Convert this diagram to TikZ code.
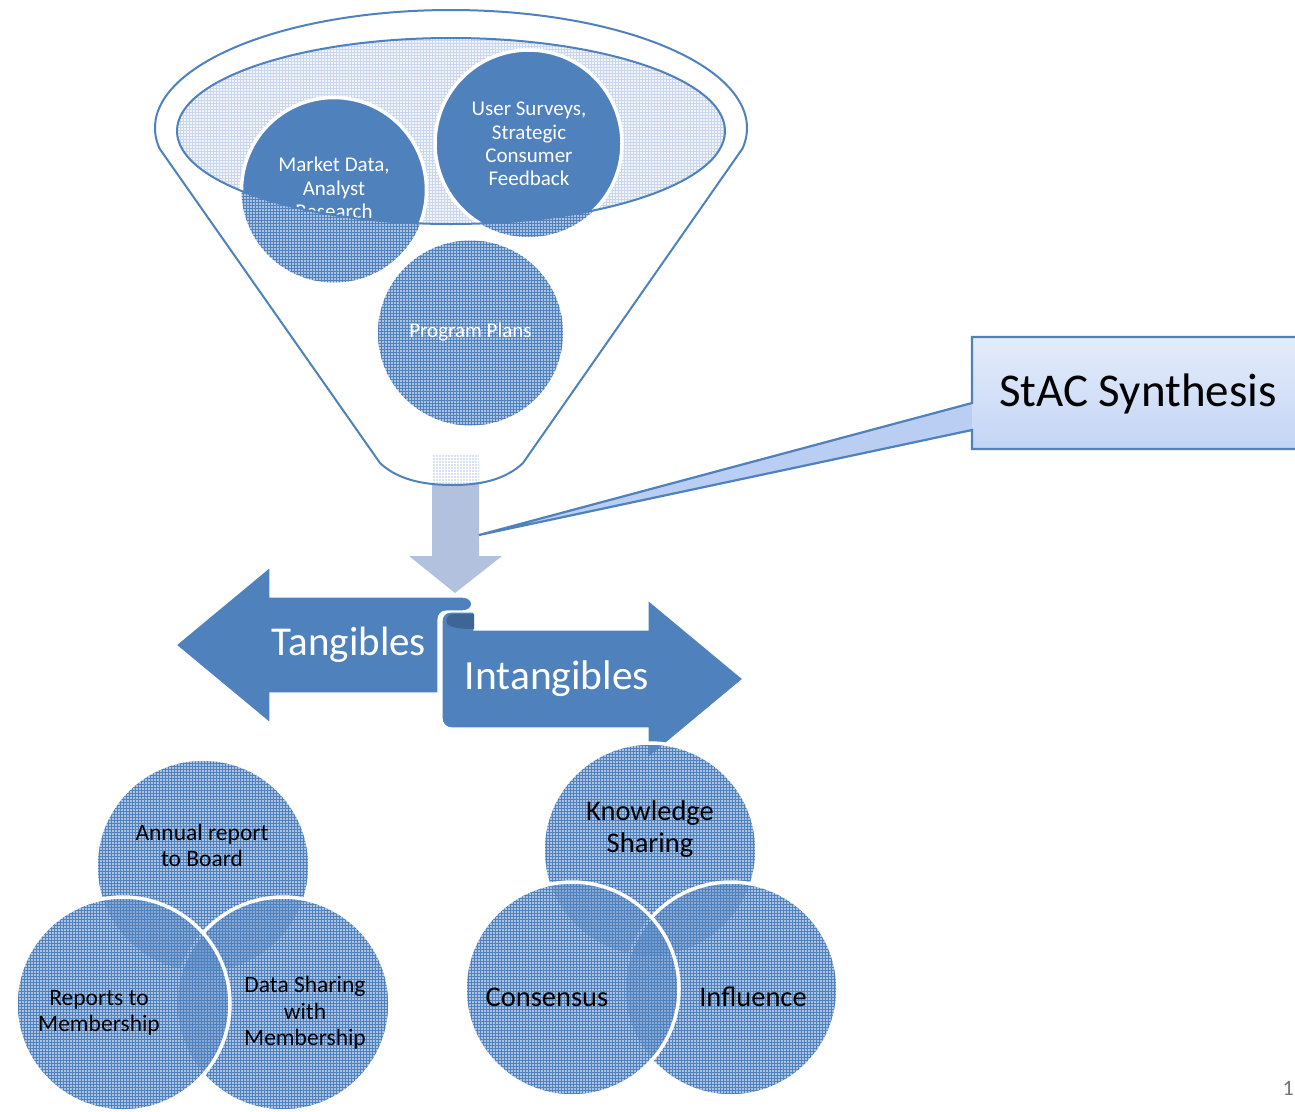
\documentclass[tikz,border=0pt]{standalone}
\usepackage{fontspec}
\setmainfont{Carlito}
\usetikzlibrary{patterns}
\definecolor{mainblue}{HTML}{4F81BD}
\definecolor{darkfold}{HTML}{3D6696}
\definecolor{spout}{HTML}{B1C1DE}
\definecolor{mouthbg}{HTML}{F1F5FB}
\definecolor{mouthgrid}{HTML}{C9D6EC}
\definecolor{cfill}{HTML}{6A92CC}
\definecolor{calltop}{HTML}{E4ECFA}
\definecolor{callbot}{HTML}{C3D5F5}
\definecolor{callptr}{HTML}{B9CEF2}
\newcommand\fsz[2]{\fontsize{#1}{#2}\selectfont}
\tikzset{
  whitetxt/.style={text=white, align=center, inner sep=0pt},
  blacktxt/.style={text=black, align=center, inner sep=0pt},
  circbase/.style={fill=cfill, fill opacity=0.55},
  circgrid/.style={pattern=grid, pattern color=mainblue, fill opacity=0.25},
  circrim/.style={draw=white, line width=3.5pt},
  ribbon/.style={fill=mainblue, draw=white, line width=1.2pt},
}
\begin{document}
\begin{tikzpicture}[x=1pt,y=-1pt]
\useasboundingbox (0,0) rectangle (1295,1111);

% ---------- funnel body ----------
\path[fill=white] (159.5,148.5) arc[start angle=170,end angle=370,x radius=296,y radius=118]
  -- (523,463) .. controls (505,480) and (480,485) .. (453,485)
  .. controls (430,485) and (400,482) .. (380,463) -- cycle;

% spout arrow
\fill[spout] (432,463) -- (479,463) -- (479,556) -- (502,556) -- (455,593) -- (409,556) -- (432,556) -- cycle;
\begin{scope}
  \clip (159.5,148.5) arc[start angle=170,end angle=370,x radius=296,y radius=118]
    -- (523,463) .. controls (505,480) and (480,485) .. (453,485)
    .. controls (430,485) and (400,482) .. (380,463) -- cycle;
  \fill[white] (432,455) rectangle (479,490);
  \fill[mouthgrid!70!white] (432,455) rectangle (479,490);
  \fill[pattern=grid, pattern color=white] (432,455) rectangle (479,490);
\end{scope}

\draw[mainblue, line width=2pt, line join=round] (159.5,148.5) arc[start angle=170,end angle=370,x radius=296,y radius=118]
  -- (523,463) .. controls (505,480) and (480,485) .. (453,485)
  .. controls (430,485) and (400,482) .. (380,463) -- cycle;

% funnel mouth
\fill[mouthbg] (451,131) ellipse[x radius=274, y radius=93];
\fill[pattern=grid, pattern color=mouthgrid] (451,131) ellipse[x radius=274, y radius=93];

% patterned input circles
\foreach \cx/\cy/\r in {334/190/92.5, 528.5/143.5/93.5, 470.5/333/92.5}{
  \fill[circbase] (\cx,\cy) circle[radius=\r];
  \fill[circgrid] (\cx,\cy) circle[radius=\r];
}
\node[whitetxt, font=\fsz{21}{24}] (prog) at (470.5,332) {Program Plans};

% solid parts inside the mouth
\begin{scope}
  \clip (451,131) ellipse[x radius=274, y radius=93];
  \fill[mainblue] (334,190) circle[radius=92.5];
  \fill[mainblue] (528.5,143.5) circle[radius=93.5];
  \draw[circrim] (334,190) circle[radius=92.5];
  \draw[circrim] (528.5,143.5) circle[radius=93.5];
  \node[whitetxt, font=\fsz{21}{23.3}] (mkt) at (334,188) {Market Data,\\Analyst\\Research};
  \node[whitetxt, font=\fsz{21}{23.3}] (usr) at (529,144) {User Surveys,\\Strategic\\Consumer\\Feedback};
\end{scope}
\draw[mainblue, line width=2pt] (451,131) ellipse[x radius=274, y radius=93];

% ---------- callout ----------
\fill[callptr] (973,403) -- (479,535) -- (973,430) -- cycle;
\shade[top color=calltop, bottom color=callbot] (972,337) rectangle (1310,449);
\draw[mainblue, line width=2.2pt, line join=miter] (1310,337) -- (972,337) -- (972,403) -- (479,535)
  -- (972,430) -- (972,449) -- (1310,449);
\node[blacktxt, font=\fsz{47}{50}] (stac) at (1138,394) {StAC Synthesis};

% ---------- ribbon arrows ----------
\path[ribbon] (176,645) -- (270,567) -- (270,597) -- (462,597)
  .. controls (475,597) and (475,611) .. (462,611) -- (447,611)
  .. controls (441,611) and (438,615) .. (438,620) -- (438,693)
  -- (270,693) -- (270,723) -- cycle;
\path[ribbon] (451,612) -- (474,612) -- (474,630) -- (648,630) -- (648,600) -- (743,679)
  -- (648,758) -- (648,728) -- (452,728) .. controls (446,728) and (442,724) .. (442,718)
  -- (442,621) .. controls (442,616) and (445,612) .. (451,612) -- cycle;
\fill[darkfold] (474,614) -- (453,614) .. controls (447,614) and (446,619) .. (447,624)
  .. controls (452,628) and (462,629) .. (474,629) -- cycle;
\node[whitetxt, font=\fsz{41}{44}] (tang) at (349,645) {Tangibles};
\node[whitetxt, font=\fsz{41.5}{44}] (intang) at (557,679) {Intangibles};

% ---------- tangibles circles ----------
\foreach \cx/\cy in {203/866, 283/1004, 123/1004}{
  \fill[circbase] (\cx,\cy) circle[radius=107];
  \fill[circgrid] (\cx,\cy) circle[radius=107];
  \draw[circrim] (\cx,\cy) circle[radius=107];
}
\node[blacktxt, font=\fsz{23.5}{26}] (annual) at (202,845) {Annual report\\to Board};
\node[blacktxt, font=\fsz{23.5}{26}] (reports) at (99,1013) {Reports to\\Membership};
\node[blacktxt, font=\fsz{23.5}{26.5}] (datash) at (305,1013) {Data Sharing\\with\\Membership};

% ---------- intangibles circles ----------
\foreach \cx/\cy in {650/850, 731/989, 572/989}{
  \fill[circbase] (\cx,\cy) circle[radius=107];
  \fill[circgrid] (\cx,\cy) circle[radius=107];
  \draw[circrim] (\cx,\cy) circle[radius=107];
}
\node[blacktxt, font=\fsz{28.5}{32}] (know) at (650,829) {Knowledge\\Sharing};
\node[blacktxt, font=\fsz{28.5}{32}] (cons) at (547,997) {Consensus};
\node[blacktxt, font=\fsz{28.5}{32}] (infl) at (753,997) {Influence};

% page number
\node[text=black!55, font=\fsz{22}{24}, anchor=east, inner sep=0pt] (pg) at (1294,1088) {1};
\end{tikzpicture}
\end{document}
